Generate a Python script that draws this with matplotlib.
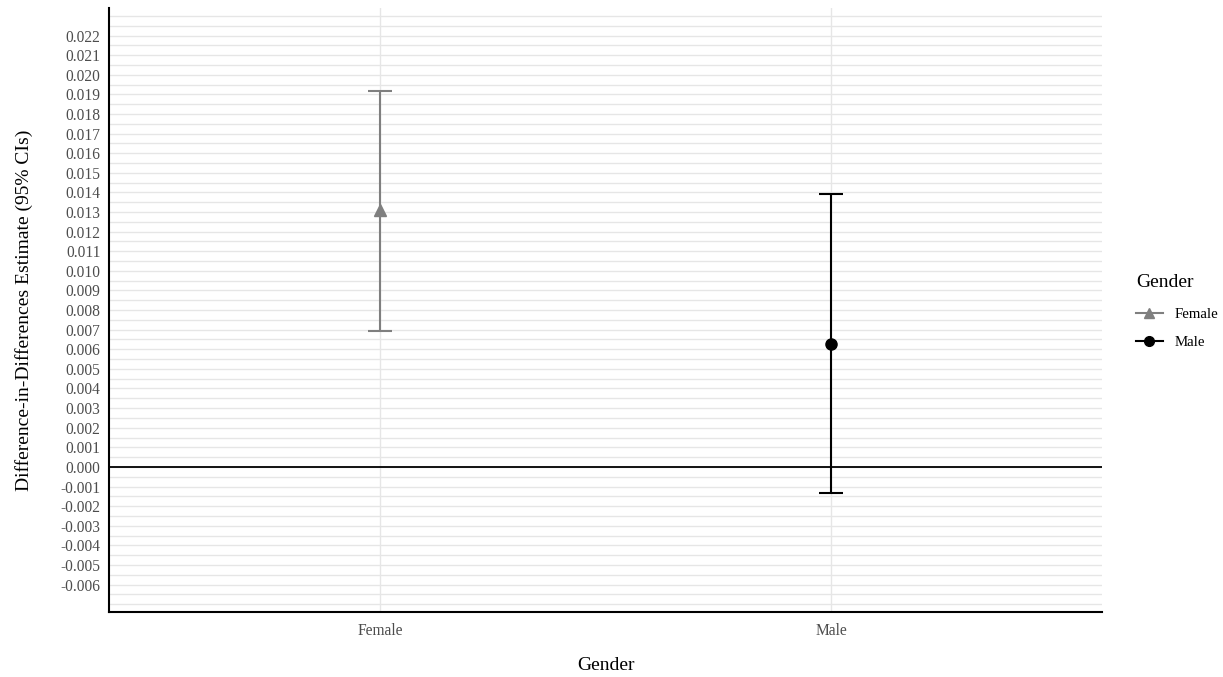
import matplotlib.pyplot as plt
import numpy as np
from matplotlib.lines import Line2D

# datos
genders = ['Female', 'Male']
estimates = [0.01312, 0.00628]
ci_low = [0.00694, -0.00133]
ci_high = [0.01919, 0.01394]
colors = ['#7f7f7f', '#000000']
markers = ['^', 'o']

plt.rcParams['font.family'] = ['Liberation Serif', 'DejaVu Serif']

fig = plt.figure(figsize=(12.23, 6.77), dpi=100)
ax = fig.add_axes([0.0891, 0.096, 0.812, 0.892])

x = np.arange(1, len(genders) + 1)

# grilla
for v in np.arange(-0.007, 0.02301, 0.0005):
    ax.axhline(v, color='#e6e6e6', lw=1.0, zorder=0)
for xi in x:
    ax.axvline(xi, color='#e6e6e6', lw=1.0, zorder=0)

ax.axhline(0, color='black', lw=1.3, zorder=1)

for i in range(len(genders)):
    yerr = [[estimates[i] - ci_low[i]], [ci_high[i] - estimates[i]]]
    ax.errorbar(x[i], estimates[i], yerr=yerr, fmt=markers[i], color=colors[i],
                ecolor=colors[i], elinewidth=1.5, capsize=8.5, capthick=1.5,
                markersize=8, zorder=3)

ax.set_xlim(0.4, 2.6)
ax.set_ylim(-0.0074, 0.0234)
ax.set_xticks(x)
ax.set_xticklabels(genders)
yt = np.arange(-0.006, 0.02201, 0.001)
ax.set_yticks(yt)
ax.set_yticklabels([f'{v:.3f}' for v in yt])
ax.tick_params(axis='both', length=0, labelsize=11.2, colors='#4d4d4d', pad=6)
ax.tick_params(axis='x', pad=8)

for s in ['top', 'right']:
    ax.spines[s].set_visible(False)
for s in ['left', 'bottom']:
    ax.spines[s].set_linewidth(1.5)
    ax.spines[s].set_color('black')

ax.set_xlabel('Gender', fontsize=14, labelpad=13)
ax.set_ylabel('Difference-in-Differences Estimate (95% CIs)', fontsize=14, labelpad=20)

handles = [Line2D([0], [0], color=colors[i], marker=markers[i], lw=1.5, markersize=7)
           for i in range(len(genders))]
leg = fig.legend(handles, genders, loc='upper left', bbox_to_anchor=(0.918, 0.615),
                 frameon=False, title='Gender', fontsize=10.7, title_fontsize=14,
                 handlelength=1.8, labelspacing=1.0)
leg._legend_box.align = 'left'
leg._legend_box.sep = 12

fig.savefig('out.png', dpi=100)
